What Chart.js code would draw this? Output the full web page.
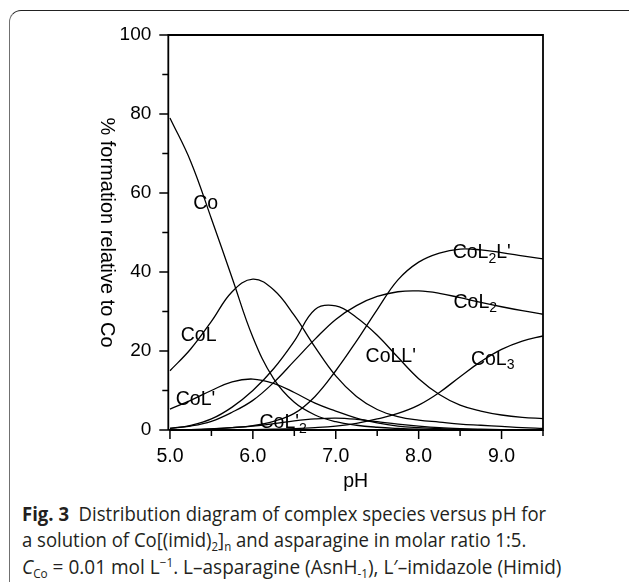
<!DOCTYPE html>
<html><head><meta charset="utf-8">
<script src="https://cdn.jsdelivr.net/npm/chart.js@4.4.1/dist/chart.umd.min.js"></script>
<style>
html,body{margin:0;padding:0;background:#fff;width:629px;height:582px;overflow:hidden;}
#card{position:absolute;left:9px;top:10px;width:640px;height:620px;border-left:1.5px solid #707070;border-top:1.5px solid #222;border-top-left-radius:12px;box-sizing:border-box;}
#wrap{position:absolute;left:0;top:0;width:629px;height:500px;}
.cap{position:absolute;left:22px;font-family:"Open Sans","Noto Sans",sans-serif;font-size:19.5px;line-height:22px;color:#231f20;white-space:nowrap;transform-origin:0 50%;transform:scaleX(0.95);}
.cap sub,.cap sup{font-size:0.62em;line-height:0;position:relative;vertical-align:baseline;}
.cap sub{top:0.3em;}
.cap sup{top:-0.55em;}
</style></head>
<body>
<div id="card"></div>
<div id="wrap"><canvas id="c" width="629" height="500"></canvas></div>
<div class="cap" style="top:503px"><b>Fig. 3</b>&nbsp; Distribution diagram of complex species versus pH for</div>
<div class="cap" style="top:529px">a solution of Co[(imid)<sub>2</sub>]<sub>n</sub> and asparagine in molar ratio 1:5.</div>
<div class="cap" style="top:556px;transform:scaleX(0.975)"><i>C</i><sub>Co</sub> = 0.01 mol L<sup>−1</sup>. L–asparagine (AsnH<sub>-1</sub>), L′–imidazole (Himid)</div>
<script>
// ---- data ----
const pH      = [5.0, 5.25, 5.5, 5.75, 6.0, 6.25, 6.5, 6.75, 7.0, 7.25, 7.5, 7.75, 8.0, 8.25, 8.5, 8.75, 9.0, 9.25, 9.5];
const Co      = [79, 68, 53.5, 38.5, 23.5, 13, 7, 3.8, 2.1, 1.2, 0.7, 0.4, 0.2, 0.1, 0.1, 0, 0, 0, 0];
const CoL     = [15, 20.5, 27.5, 35, 38.2, 35.5, 29, 21, 13.7, 8.5, 5.2, 3.4, 2.5, 2, 1.5, 1.2, 0.9, 0.6, 0.4];
const CoLp    = [5.3, 7.5, 10, 12.2, 12.9, 11.8, 9.5, 6.8, 4.8, 3.0, 1.8, 1.0, 0.6, 0.35, 0.2, 0.1, 0.1, 0, 0];
const CoLLp   = [0.4, 1.2, 2.8, 5.8, 10, 15.5, 22.5, 30.5, 31.4, 28.5, 24, 18.4, 13, 9, 6.3, 4.8, 3.8, 3.2, 2.9];
const CoL2    = [0.4, 1.0, 2.2, 4.5, 7.5, 12, 17.5, 23, 28, 31.5, 33.8, 35, 35.2, 34.6, 33.5, 32.3, 31.2, 30.2, 29.3];
const CoL2Lp  = [0, 0.1, 0.3, 0.6, 1.1, 2.2, 4.2, 8.5, 15, 22.5, 30.5, 38, 42.5, 44.8, 45.8, 45.6, 44.9, 44.1, 43.3];
const CoL3    = [0, 0, 0, 0.05, 0.1, 0.2, 0.35, 0.6, 1.0, 1.7, 2.8, 4.2, 6.3, 9.5, 13.5, 17.3, 20.4, 22.5, 23.8];
const CoLp2   = [0, 0.1, 0.3, 0.6, 1.0, 1.6, 2.3, 2.8, 3.0, 2.7, 2.1, 1.5, 1.0, 0.6, 0.35, 0.2, 0.1, 0.05, 0];

const xTickValues = [5.0, 5.5, 6.0, 6.5, 7.0, 7.5, 8.0, 8.5, 9.0, 9.5];
const yTickValues = [0, 10, 20, 30, 40, 50, 60, 70, 80, 90, 100];
const yTitle = '% formation relative to Co';

// curve labels ("_" marks a one-character subscript)
const labelTexts = ["Co", "CoL", "CoL'", "CoL'_2", "CoLL'", "CoL_2L'", "CoL_2", "CoL_3"];
const labelPH    = [5.28, 5.13, 5.07, 6.08, 7.36, 8.41, 8.42, 8.63];
const labelPct   = [57.3, 23.8, 7.6, 1.8, 18.7, 44.8, 32.3, 17.9];

const series = [Co, CoL, CoLp, CoLLp, CoL2, CoL2Lp, CoL3, CoLp2];

const FONT = '"Liberation Sans", Arial, Helvetica, sans-serif';

const framePlugin = {
  id: 'frame',
  afterDraw(chart) {
    const {ctx, chartArea: a, scales: {x, y}} = chart;
    ctx.save();
    ctx.strokeStyle = '#000';
    ctx.lineWidth = 1.8;
    ctx.beginPath();
    ctx.moveTo(a.left, a.bottom); ctx.lineTo(a.left, a.top);
    ctx.lineTo(a.right, a.top); ctx.lineTo(a.right, a.bottom);
    ctx.lineTo(a.left, a.bottom);
    ctx.stroke();
    ctx.lineWidth = 1.5;
    ctx.beginPath();
    yTickValues.forEach(v => {
      const py = y.getPixelForValue(v);
      const len = (v % 20 === 0) ? 9 : 6;
      ctx.moveTo(a.left - len, py); ctx.lineTo(a.left, py);
    });
    xTickValues.forEach(v => {
      const px = x.getPixelForValue(v);
      const len = Number.isInteger(v) ? 9 : 6;
      ctx.moveTo(px, a.bottom); ctx.lineTo(px, a.bottom + len);
    });
    ctx.stroke();
    // y-axis title, reading top to bottom
    ctx.translate(107, (a.top + a.bottom) / 2);
    ctx.rotate(Math.PI / 2);
    ctx.fillStyle = '#000';
    ctx.font = '20px ' + FONT;
    ctx.textAlign = 'center';
    ctx.textBaseline = 'middle';
    ctx.fillText(yTitle, 0, 0);
    ctx.restore();
  },
  afterDatasetsDraw(chart) {
    const {ctx, scales: {x, y}} = chart;
    ctx.save();
    ctx.fillStyle = '#000';
    ctx.textBaseline = 'middle';
    ctx.textAlign = 'left';
    labelTexts.forEach((t, i) => {
      let px = x.getPixelForValue(labelPH[i]);
      const py = y.getPixelForValue(labelPct[i]);
      const parts = t.split('_');
      ctx.font = '19.5px ' + FONT;
      ctx.fillText(parts[0], px, py);
      px += ctx.measureText(parts[0]).width;
      if (parts.length > 1) {
        const sub = parts[1][0], rest = parts[1].slice(1);
        ctx.font = '14px ' + FONT;
        ctx.fillText(sub, px, py + 6);
        px += ctx.measureText(sub).width;
        ctx.font = '19.5px ' + FONT;
        ctx.fillText(rest, px, py);
      }
    });
    ctx.restore();
  }
};

new Chart(document.getElementById('c'), {
  type: 'line',
  data: {
    datasets: series.map(s => ({
      data: s.map((v, i) => ({x: pH[i], y: v})),
      borderColor: '#000',
      borderWidth: 1.3,
      pointRadius: 0,
      tension: 0.4,
      fill: false
    }))
  },
  options: {
    responsive: false,
    animation: false,
    events: [],
    layout: {padding: {top: 35, right: 86, left: 0, bottom: 0}},
    plugins: {legend: {display: false}, tooltip: {enabled: false}},
    scales: {
      x: {
        type: 'linear', min: 4.98, max: 9.5,
        afterBuildTicks: s => { s.ticks = xTickValues.map(v => ({value: v})); },
        afterFit: s => { s.height = 70; },
        grid: {display: true, drawOnChartArea: false, drawTicks: true, tickLength: 9, color: 'rgba(0,0,0,0)'},
        border: {display: false},
        ticks: {autoSkip: false, maxRotation: 0, padding: 6, color: '#000',
                font: {family: FONT, size: 19.5},
                callback: v => Number.isInteger(v) ? v.toFixed(1) : ''},
        title: {display: true, text: 'pH', color: '#000', font: {family: FONT, size: 19.5}, padding: {top: 0, bottom: 7}}
      },
      y: {
        type: 'linear', min: 0, max: 100,
        afterBuildTicks: s => { s.ticks = yTickValues.map(v => ({value: v})); },
        afterFit: s => { s.width = 168.3; },
        grid: {display: true, drawOnChartArea: false, drawTicks: true, tickLength: 9, color: 'rgba(0,0,0,0)'},
        border: {display: false},
        ticks: {autoSkip: false, padding: 8, color: '#000',
                font: {family: FONT, size: 19},
                callback: v => (v % 20 === 0) ? String(v) : ''},
        title: {display: false}
      }
    }
  },
  plugins: [framePlugin]
});
</script>
</body></html>
